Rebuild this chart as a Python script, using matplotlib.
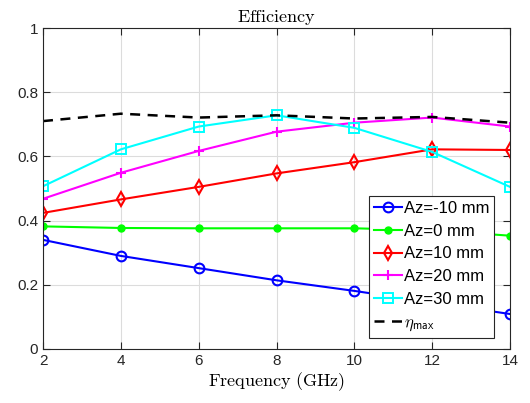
import numpy as np
import matplotlib
matplotlib.use("Agg")
import matplotlib.pyplot as plt

plt.rcParams['font.family'] = ['Liberation Sans', 'DejaVu Sans']
plt.rcParams['mathtext.fontset'] = 'cm'

# data
freq = [2, 4, 6, 8, 10, 12, 14]
eff_m10 = [0.340, 0.290, 0.252, 0.214, 0.181, 0.145, 0.109]
eff_0 = [0.382, 0.377, 0.376, 0.376, 0.376, 0.370, 0.353]
eff_10 = [0.424, 0.466, 0.505, 0.547, 0.582, 0.622, 0.620]
eff_20 = [0.468, 0.549, 0.617, 0.677, 0.705, 0.721, 0.693]
eff_30 = [0.507, 0.622, 0.693, 0.728, 0.689, 0.614, 0.505]
eta_max = [0.710, 0.733, 0.721, 0.728, 0.718, 0.723, 0.705]

fig = plt.figure(figsize=(5.3, 4.03), dpi=100)
ax = fig.add_axes([43/530, 1 - 349/403, (510-43)/530, (349-28)/403])

lw = 1.5
ax.plot(freq, eff_m10, color='#0000ff', marker='o', ms=7, mfc='none', mew=1.5, lw=lw, label='Az=-10 mm')
ax.plot(freq, eff_0, color='#00ff00', marker='.', ms=10, lw=lw, label='Az=0 mm')
ax.plot(freq, eff_10, color='#ff0000', marker='d', ms=7, mfc='none', mew=1.5, lw=lw, label='Az=10 mm')
ax.plot(freq, eff_20, color='#ff00ff', marker='+', ms=7, mew=1.5, lw=lw, label='Az=20 mm')
ax.plot(freq, eff_30, color='#00ffff', marker='s', ms=6.5, mfc='none', mew=1.4, lw=lw, label='Az=30 mm')
ax.plot(freq, eta_max, color='black', ls=(0, (4, 3)), lw=1.8, label=r'$\eta_{\mathsf{max}}$')

ax.set_xlim(2, 14)
ax.set_ylim(0, 1)
ax.set_xticks(freq)
ax.set_yticks([0, 0.2, 0.4, 0.6, 0.8, 1])
ax.set_yticklabels(['0', '0.2', '0.4', '0.6', '0.8', '1'])
ax.tick_params(direction='in', top=True, right=True, labelsize=11, colors='#262626', length=5)
ax.grid(True, color='#dcdcdc', lw=0.8)
for s in ax.spines.values():
    s.set_color('#262626')
    s.set_linewidth(0.8)

ax.set_title(r'$\mathrm{Efficiency}$', fontsize=13, pad=4)
ax.set_xlabel(r'$\mathrm{Frequency\ (GHz)}$', fontsize=13, labelpad=2)

leg = ax.legend(loc='lower right', bbox_to_anchor=(0.966, 0.034), borderaxespad=0,
                fontsize=12, fancybox=False, framealpha=1, edgecolor='#262626',
                handlelength=1.7, handletextpad=0.1, labelspacing=0.47, borderpad=0.3)
leg.get_frame().set_linewidth(0.8)

fig.savefig('out.png', dpi=100)
